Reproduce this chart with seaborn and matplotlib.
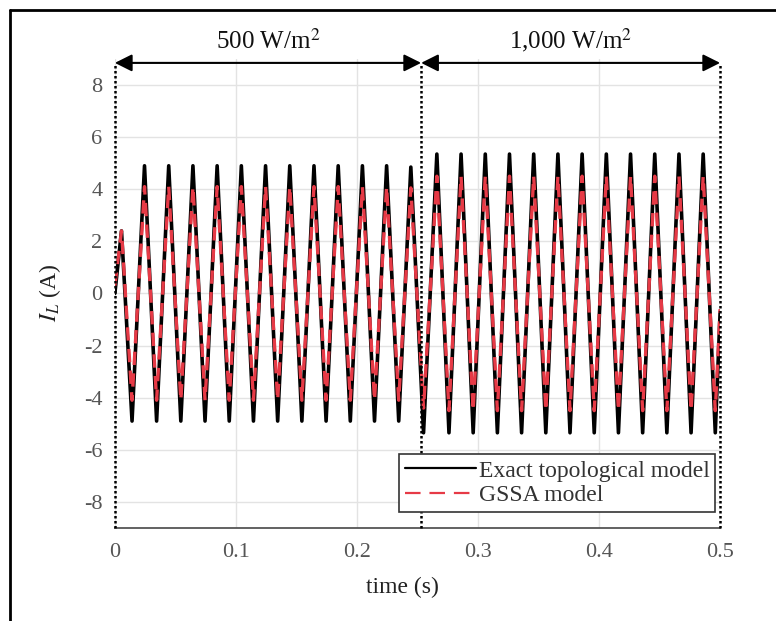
import numpy as np
import pandas as pd
import matplotlib
matplotlib.use("Agg")
import matplotlib.pyplot as plt
import seaborn as sns
from matplotlib.lines import Line2D

# ==========================================
# Data (extrema of the inductor current)
# ==========================================
time_s = [0.0, 0.0055, 0.0142,
          0.0245, 0.0345, 0.0445, 0.0545, 0.0645, 0.0745, 0.0845, 0.0945,
          0.1045, 0.1145, 0.1245, 0.1345, 0.1445, 0.1545, 0.1645, 0.1745,
          0.1845, 0.1945, 0.2045, 0.2145, 0.2245, 0.2345, 0.2445,
          0.2550,
          0.2660, 0.2760, 0.2860, 0.2960, 0.3060, 0.3160, 0.3260, 0.3360,
          0.3460, 0.3560, 0.3660, 0.3760, 0.3860, 0.3960, 0.4060, 0.4160,
          0.4260, 0.4360, 0.4460, 0.4560, 0.4660, 0.4760, 0.4860, 0.4960,
          0.5000]

exact_model = [0.0, 2.4, -4.9,
               4.9, -4.9, 4.9, -4.9, 4.9, -4.9, 4.9, -4.9,
               4.9, -4.9, 4.9, -4.9, 4.9, -4.9, 4.9, -4.9,
               4.9, -4.9, 4.9, -4.9, 4.9, -4.9, 4.85,
               -5.35,
               5.35, -5.35, 5.35, -5.35, 5.35, -5.35, 5.35, -5.35,
               5.35, -5.35, 5.35, -5.35, 5.35, -5.35, 5.35, -5.35,
               5.35, -5.35, 5.35, -5.35, 5.35, -5.35, 5.35, -5.35,
               -0.7]

gssa_model = [0.3, 2.4, -4.1,
              4.1, -4.1, 4.1, -4.1, 4.1, -4.1, 4.1, -4.1,
              4.1, -4.1, 4.1, -4.1, 4.1, -4.1, 4.1, -4.1,
              4.1, -4.1, 4.1, -4.1, 4.1, -4.1, 4.05,
              -4.4,
              4.5, -4.5, 4.5, -4.5, 4.5, -4.5, 4.5, -4.5,
              4.5, -4.5, 4.5, -4.5, 4.5, -4.5, 4.5, -4.5,
              4.5, -4.5, 4.5, -4.5, 4.5, -4.5, 4.5, -4.5,
              -0.6]

# irradiance steps
step_edges = [0.0, 0.253, 0.5]
step_labels = ["500 W/m$^2$", "1,000 W/m$^2$"]

x_ticks = [0, 0.1, 0.2, 0.3, 0.4, 0.5]
x_tick_labels = ["0", "0.1", "0.2", "0.3", "0.4", "0.5"]
y_ticks = [-8, -6, -4, -2, 0, 2, 4, 6, 8]

df = pd.DataFrame({"t": time_s, "exact": exact_model, "gssa": gssa_model})

# ==========================================
# Style
# ==========================================
sns.set_theme(style="white")
plt.rcParams["font.family"] = ["Liberation Serif", "DejaVu Serif"]
plt.rcParams["mathtext.fontset"] = "stix"
plt.rcParams["axes.unicode_minus"] = False

fig = plt.figure(figsize=(7.76, 6.21), dpi=100)
ax = fig.add_axes([0.148, 0.150, 0.780, 0.755])

sns.lineplot(x="t", y="exact", data=df, ax=ax, color="black", lw=2.6,
             label="Exact topological model", sort=False)
sns.lineplot(x="t", y="gssa", data=df, ax=ax, color="#e63a46", lw=2.4,
             linestyle=(0, (4, 2.5)), label="GSSA model", sort=False)

ax.set_xlim(0, 0.5)
ax.set_ylim(-9, 9)
ax.set_xticks(x_ticks)
ax.set_xticklabels(x_tick_labels)
ax.set_yticks(y_ticks)
ax.grid(True, color="#e3e3e3", lw=1)
ax.tick_params(direction="in", length=5, color="#666666", labelcolor="#555555",
               labelsize=16)
ax.tick_params(axis="x", pad=11)
ax.tick_params(axis="y", pad=9)

for side in ["top", "right", "left"]:
    ax.spines[side].set_visible(False)
ax.spines["bottom"].set_color("#555555")
ax.spines["bottom"].set_linewidth(1.3)

ax.set_xlabel("time (s)", fontsize=17, color="#222222")
ax.xaxis.set_label_coords(0.475, -0.105)
ax.set_ylabel("$I_L$ (A)", fontsize=17, color="#222222")
ax.yaxis.set_label_coords(-0.085, 0.5)

# dotted step markers and double arrows
arrow_y = 8.85
for xe in step_edges:
    ax.plot([xe, xe], [-9, arrow_y], color="black", ls=(0, (1, 1)), lw=1.8,
            clip_on=False, zorder=5)
for i, lab in enumerate(step_labels):
    x0, x1 = step_edges[i], step_edges[i + 1]
    ax.annotate("", xy=(x1, arrow_y), xytext=(x0, arrow_y),
                arrowprops=dict(arrowstyle="<|-|>", color="black", lw=1.5,
                                mutation_scale=26, shrinkA=0, shrinkB=0),
                annotation_clip=False)
    ax.text((x0 + x1) / 2, 9.2, lab, ha="center", va="bottom", fontsize=18,
            color="#111111")

leg = ax.legend(loc="lower right", bbox_to_anchor=(0.992, 0.034), fontsize=17,
                frameon=True, fancybox=False, edgecolor="#333333",
                framealpha=1, handlelength=3.0, handletextpad=0.1,
                borderpad=0.25, labelspacing=0.12, borderaxespad=0)
leg.get_frame().set_linewidth(1.2)
for txt in leg.get_texts():
    txt.set_color("#333333")
for h in leg.legend_handles:
    h.set_linewidth(1.6)
leg.legend_handles[1].set_dashes([7, 4])

# outer frame of the original figure
fig.add_artist(Line2D([10 / 776, 1], [1 - 10 / 621, 1 - 10 / 621],
                      color="black", lw=2, transform=fig.transFigure))
fig.add_artist(Line2D([10 / 776, 10 / 776], [0, 1 - 10 / 621],
                      color="black", lw=2, transform=fig.transFigure))

plt.savefig("out.png", dpi=100)
